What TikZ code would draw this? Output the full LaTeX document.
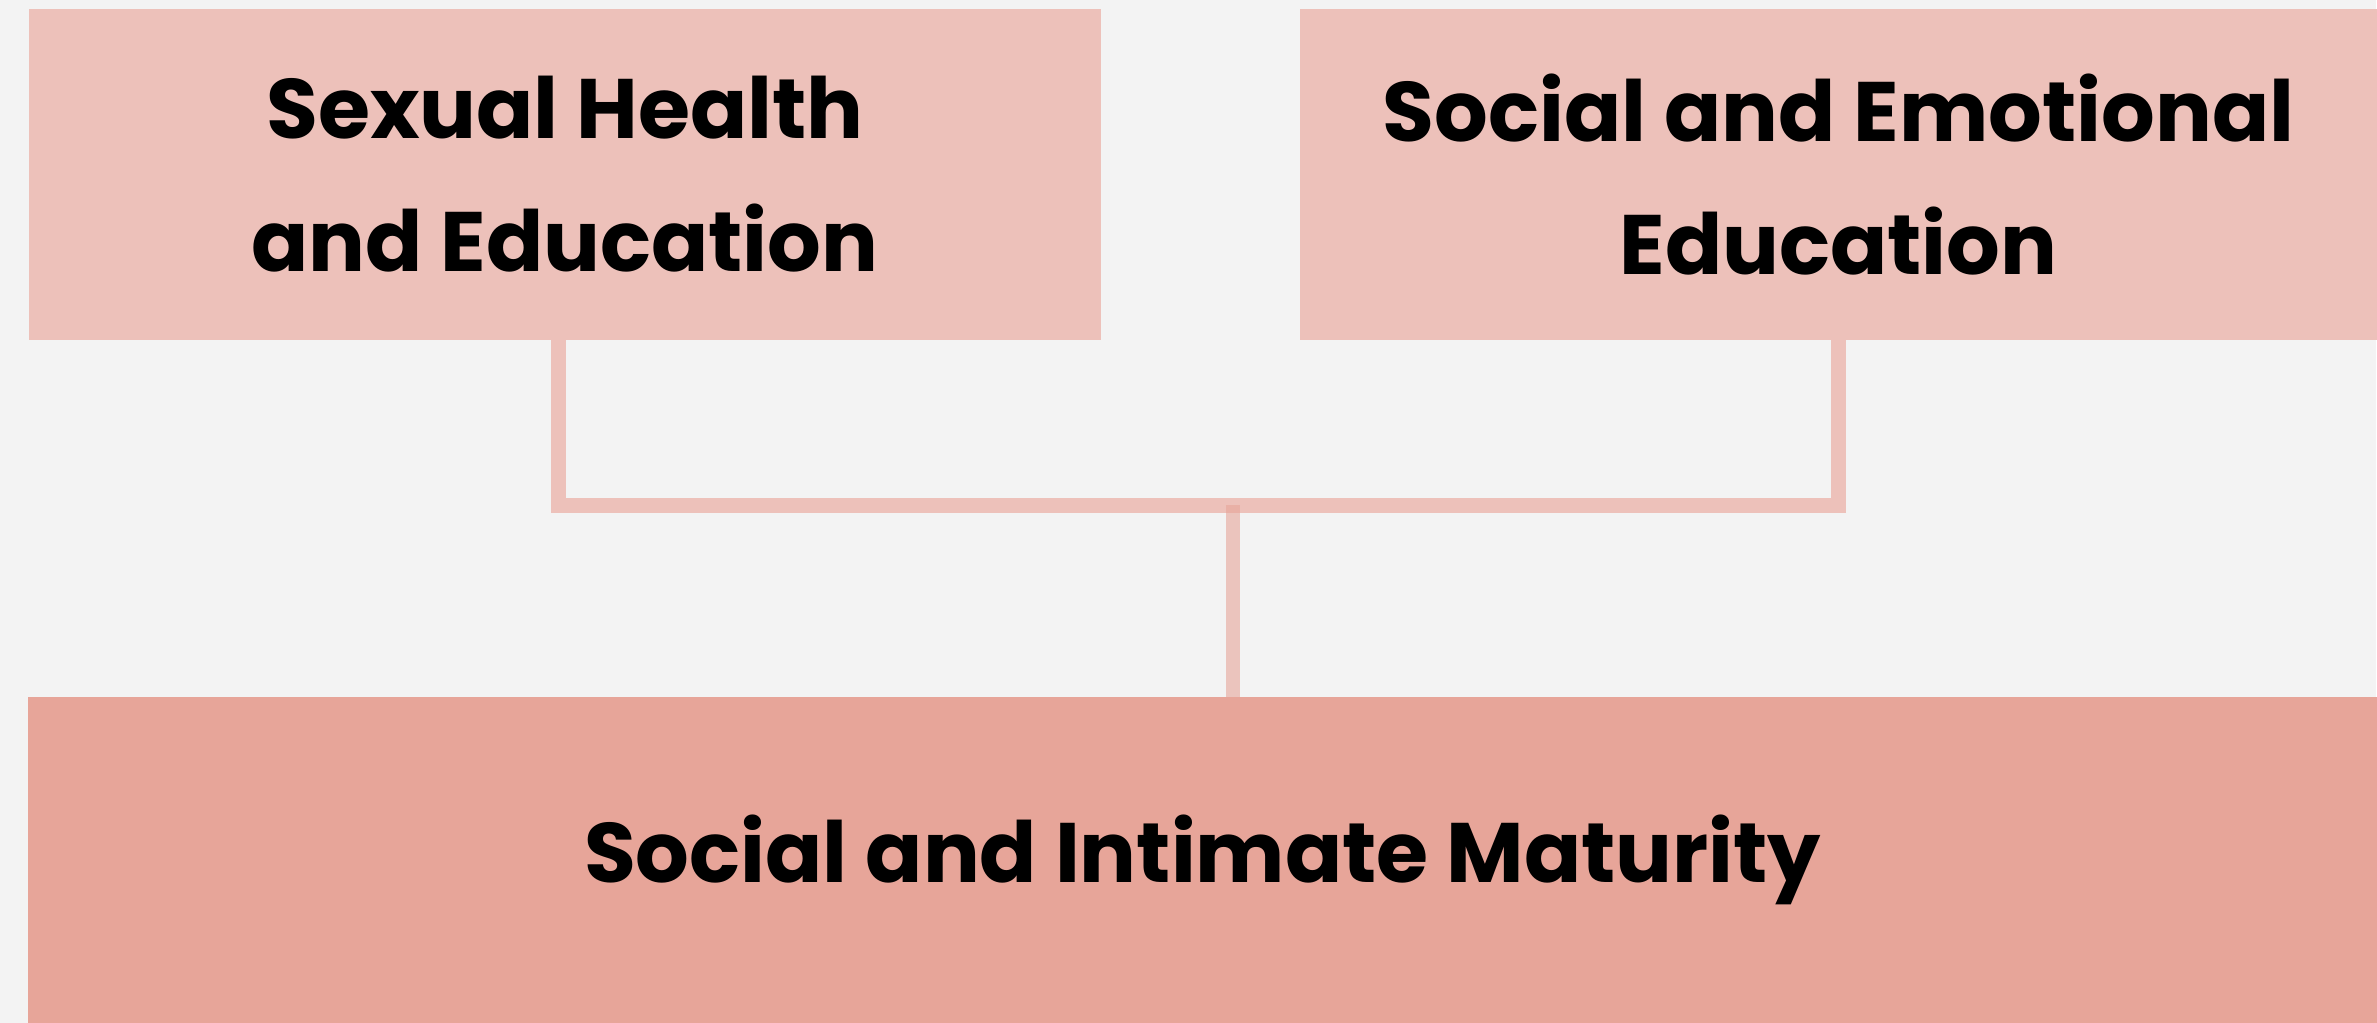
\documentclass[tikz,border=0pt]{standalone}
\usepackage{fontspec}
\setmainfont{Poppins}
\usepackage{tikz}
\definecolor{pagegrey}{HTML}{F3F3F3}
\definecolor{lightrose}{HTML}{EDC1BA}
\definecolor{deeprose}{HTML}{E7A599}

\begin{document}
\begin{tikzpicture}[x=0.01cm,y=0.01cm]
		\fill[pagegrey] (0,0) rectangle (2377,1023); %background
		\tikzset{topic/.style={fill=lightrose,inner sep=0pt,outer sep=0pt,align=center,
			font=\fontsize{24}{37.8}\selectfont\bfseries}} %boxes
		\tikzset{link/.style={lightrose,line width=0.15cm}}
		\node[topic,minimum width=10.72cm,minimum height=3.31cm] (sexual) at (565,848.5) {Sexual Health\\and Education};
		\node[topic,minimum width=10.76cm,minimum height=3.31cm] (social) at (1839,848.5) {Social and Emotional\\Education};
		\node[topic,fill=deeprose,minimum width=23.48cm,minimum height=3.26cm] (maturity) at (1203,163) {Social and Intimate Maturity};
		\coordinate (join) at (1233,517.5); %joint of the two branches
		\draw[link] ([xshift=-0.06cm]sexual.south) |- (join) -| (social.south); %branches
		\draw[deeprose,opacity=0.6,line width=0.14cm] (join) -- ([yshift=-0.05cm]maturity.north -| join);
\end{tikzpicture}
\end{document}
